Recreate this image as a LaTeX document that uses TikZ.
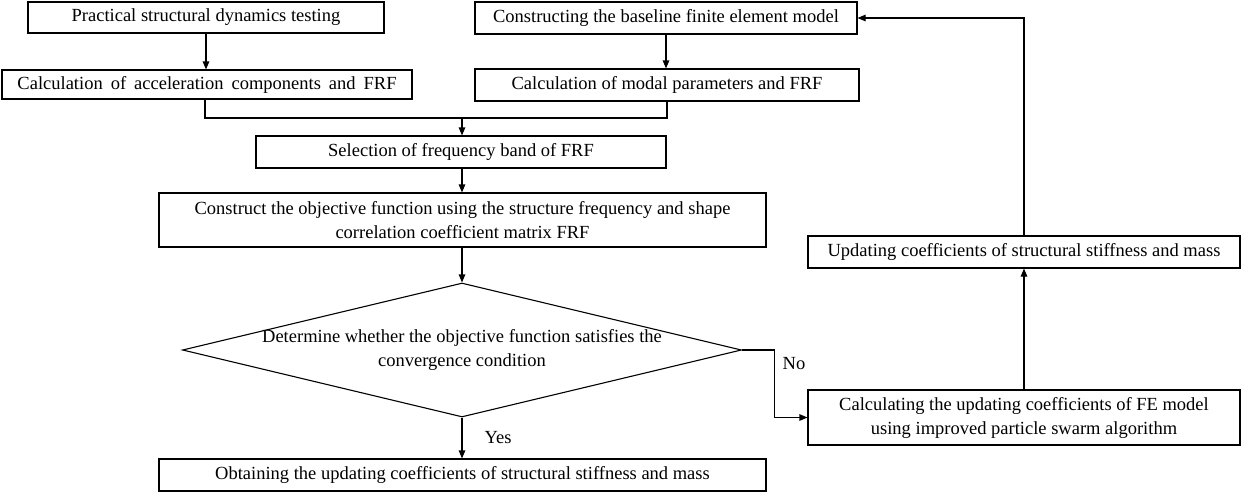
\documentclass[tikz,border=0pt]{standalone}
\usepackage{fontspec}
\setmainfont{Liberation Serif}
\usetikzlibrary{arrows.meta,shapes.geometric}
\begin{document}
\begin{tikzpicture}[x=1pt,y=-1pt,
  every node/.style={font=\fontsize{18.5}{24}\selectfont},
  box/.style={draw,line width=1.1pt,rectangle,inner sep=0pt,align=center},
  conn/.style={line width=1.1pt},
  arr/.style={line width=1.1pt,-{Triangle[length=8pt,width=6.5pt]}},
  lab/.style={inner sep=0pt}]
\useasboundingbox (0,0) rectangle (1245,496);
\node[box,minimum width=356pt,minimum height=31pt] (b1) at (206,17.5) {Practical structural dynamics testing};
\node[box,minimum width=410pt,minimum height=29pt] (b2) at (207,84.5) {\spaceskip=8pt Calculation of acceleration components and FRF};
\node[box,minimum width=382pt,minimum height=32pt] (b3) at (666,18) {Constructing the baseline finite element model};
\node[box,minimum width=384pt,minimum height=32pt] (b4) at (667,85) {Calculation of modal parameters and FRF};
\node[box,minimum width=410pt,minimum height=32pt] (b5) at (461,152) {Selection of frequency band of FRF};
\node[box,minimum width=607pt,minimum height=54pt] (b6) at (462.5,220) {Construct the objective function using the structure frequency and shape\\correlation coefficient matrix FRF};
\node[draw,diamond,line width=1.1pt,inner sep=0pt,minimum width=559pt,minimum height=134pt] (dec) at (462,350) {};
\node[align=center,inner sep=0pt] (dect) at (dec.center) {Determine whether the objective function satisfies the\\convergence condition};
\node[box,minimum width=607pt,minimum height=32pt] (fin) at (462.5,475) {Obtaining the updating coefficients of structural stiffness and mass};
\node[box,minimum width=432pt,minimum height=55pt] (fe) at (1024,417.5) {Calculating the updating coefficients of FE model\\using improved particle swarm algorithm};
\node[box,minimum width=432pt,minimum height=32pt] (upd) at (1024,252) {Updating coefficients of structural stiffness and mass};
\coordinate (m) at (462,118);
\draw[arr] (b1.south) -- (b1.south |- b2.north);
\draw[arr] (b3.south) -- (b3.south |- b4.north);
\draw[conn] (b2.south -| 205,0) |- (m);
\draw[conn] (b4.south) |- (m);
\draw[arr] (m) -- (m |- b5.north);
\draw[arr] (m |- b5.south) -- (m |- b6.north);
\draw[arr] (m |- b6.south) -- (dec.north);
\draw[arr] (dec.south) -- node[lab,right,xshift=22pt] {Yes} (dec.south |- fin.north);
\draw[arr] (dec.east) -- ++(32,0) |- (fe.west);
\node[lab] (no) at (794,364) {No};
\draw[arr] (fe.north) -- (upd.south);
\draw[arr] (upd.north) |- (b3.east);
\end{tikzpicture}
\end{document}
